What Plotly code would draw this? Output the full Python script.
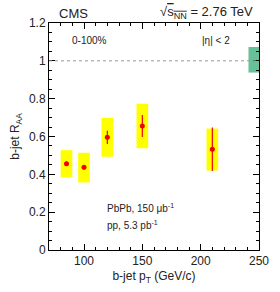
import plotly.graph_objects as go

pt = [85, 100, 120, 150, 210]
raa = [0.456, 0.437, 0.596, 0.655, 0.533]
stat_err = [0.012, 0.012, 0.035, 0.058, 0.115]
sys_lo = [0.383, 0.357, 0.493, 0.538, 0.420]
sys_hi = [0.528, 0.514, 0.698, 0.773, 0.642]
sys_width = [10, 10, 10, 10, 10]
norm_x = [245.5]
norm_lo = [0.938]
norm_hi = [1.073]

font = "Liberation Sans, Arial, sans-serif"
fig = go.Figure()
fig.add_trace(go.Bar(x=pt, y=[h - l for h, l in zip(sys_hi, sys_lo)], base=sys_lo,
                     width=sys_width, marker=dict(color="#ffff00", line=dict(width=0)),
                     showlegend=False, hoverinfo="skip"))
fig.add_trace(go.Bar(x=norm_x, y=[norm_hi[0] - norm_lo[0]], base=norm_lo, width=[9],
                     marker=dict(color="#66c199", line=dict(width=0)),
                     showlegend=False, hoverinfo="skip"))
fig.add_trace(go.Scatter(x=pt, y=raa, mode="markers",
                         marker=dict(color="#ee0000", size=5),
                         error_y=dict(type="data", array=stat_err, color="#ee0000",
                                      thickness=1.2, width=0),
                         showlegend=False))
fig.add_hline(y=1, line=dict(color="#999999", width=1, dash="dot"))

axis_common = dict(showline=True, linecolor="black", linewidth=1, mirror="ticks",
                   ticks="inside", ticklen=6, tickcolor="black", showgrid=False,
                   zeroline=False, tickfont=dict(family=font, size=12, color="#222"))
fig.update_xaxes(range=[70, 250], dtick=50, tick0=0,
                 minor=dict(dtick=10, ticks="inside", ticklen=3, tickcolor="black"),
                 title=dict(text="b-jet p<sub>T</sub> (GeV/c)", font=dict(family=font, size=12, color="#222"),
                            standoff=4),
                 **axis_common)
fig.update_yaxes(range=[0, 1.2], dtick=0.2, tick0=0, tickformat="~g",
                 minor=dict(dtick=0.05, ticks="inside", ticklen=3, tickcolor="black"),
                 title=dict(text="b-jet R<sub>AA</sub>", font=dict(family=font, size=12, color="#222"),
                            standoff=6),
                 **axis_common)

ann = [
    dict(x=0.04, y=1.0, text="CMS", xanchor="left", yanchor="bottom", size=13),
    dict(x=0.98, y=1.0,
         text="√<span style='text-decoration:overline'>s<sub>NN</sub></span> = 2.76 TeV",
         xanchor="right", yanchor="bottom", size=13),
    dict(x=0.1, y=0.925, text="0-100%", xanchor="left", yanchor="middle", size=10),
    dict(x=0.72, y=0.925, text="|η| < 2", xanchor="left", yanchor="middle", size=10),
    dict(x=0.265, y=0.185, text="PbPb, 150 μb<sup>-1</sup>", xanchor="left", yanchor="middle", size=10),
    dict(x=0.265, y=0.11, text="pp, 5.3 pb<sup>-1</sup>", xanchor="left", yanchor="middle", size=10),
]
annotations = []
for a in ann:
    s = a.pop("size")
    annotations.append(dict(xref="paper", yref="paper", showarrow=False,
                            font=dict(family=font, size=s, color="#222"), **a))
fig.update_layout(width=280, height=292, margin=dict(l=49, r=11, t=23, b=35),
                  plot_bgcolor="white", paper_bgcolor="white", barmode="overlay",
                  annotations=annotations, showlegend=False)
fig.write_html("out.html")
